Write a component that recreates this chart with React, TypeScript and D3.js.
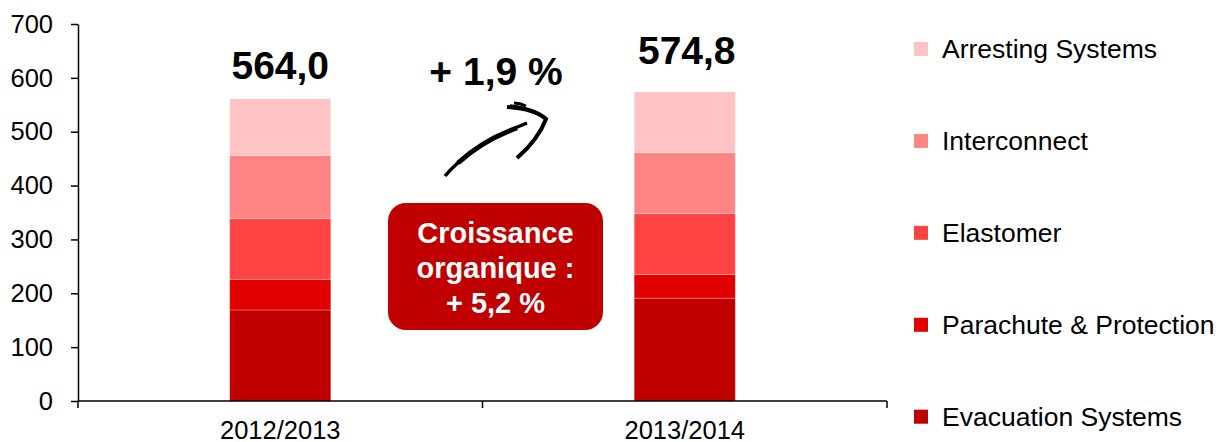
import React, { useEffect, useRef } from 'react';
import * as d3 from 'd3';

// Chart data
const categories = ['2012/2013', '2013/2014'];
const seriesNames = ['Evacuation Systems', 'Parachute & Protection', 'Elastomer', 'Interconnect', 'Arresting Systems'];
const seriesColors = ['#C00000', '#E20000', '#FF4343', '#FF8585', '#FFC3C3'];
const evacuation = [169, 191];
const parachute = [57, 44];
const elastomer = [113, 113];
const interconnect = [117, 113];
const arresting = [105, 113];
const totalLabels = ['564,0', '574,8'];
const yTicks = [0, 100, 200, 300, 400, 500, 600, 700];
const growthLabel = '+ 1,9 %';
const organicLines = ['Croissance', 'organique :', '+ 5,2 %'];

const W = 1219;
const H = 442;
const FONT = '"Liberation Sans", Arial, Helvetica, sans-serif';

const App = () => {
  const ref = useRef<SVGSVGElement | null>(null);

  useEffect(() => {
    if (!ref.current) return;
    const svg = d3.select(ref.current);
    svg.selectAll('*').remove();

    const plot = { left: 78, right: 887, top: 24, bottom: 401 };

    const x = d3.scaleBand().domain(categories).range([plot.left, plot.right]).padding(0);
    const y = d3.scaleLinear().domain([0, 700]).range([plot.bottom, plot.top]);
    const barW = x.bandwidth() * 0.25;

    // rows -> stacked
    const series = [evacuation, parachute, elastomer, interconnect, arresting];
    const rows = categories.map((c, i) => {
      const r: any = { cat: c };
      seriesNames.forEach((s, k) => (r[s] = series[k][i]));
      return r;
    });
    const stacked = d3.stack().keys(seriesNames)(rows);

    // Bars
    stacked.forEach((layer, k) => {
      svg.append('g')
        .selectAll('rect')
        .data(layer)
        .join('rect')
        .attr('x', (d: any) => x(d.data.cat)! + x.bandwidth() / 2 - barW / 2)
        .attr('width', barW)
        .attr('y', d => y(d[1]))
        .attr('height', d => y(d[0]) - y(d[1]))
        .attr('fill', seriesColors[k])
        .attr('stroke', 'rgba(255,255,255,0.35)')
        .attr('stroke-width', 0.75);
    });

    // Y axis
    const yAxis = svg.append('g')
      .attr('transform', `translate(${plot.left},0)`)
      .call(d3.axisLeft(y).tickValues(yTicks).tickSize(7).tickSizeOuter(0).tickPadding(18));
    yAxis.select('.domain').attr('stroke', '#000').attr('stroke-width', 1.5);
    yAxis.selectAll('.tick line').attr('stroke', '#000').attr('stroke-width', 1.5);
    yAxis.selectAll('.tick text')
      .attr('font-family', FONT)
      .attr('font-size', 25.5)
      .attr('fill', '#000');

    // X axis
    const xAxis = svg.append('g');
    xAxis.append('line')
      .attr('x1', plot.left).attr('x2', plot.right)
      .attr('y1', plot.bottom).attr('y2', plot.bottom)
      .attr('stroke', '#000').attr('stroke-width', 1.5);
    const bounds = [...categories.map(c => x(c)!), plot.right];
    xAxis.selectAll('line.tick')
      .data(bounds)
      .join('line')
      .attr('class', 'tick')
      .attr('x1', d => d).attr('x2', d => d)
      .attr('y1', plot.bottom).attr('y2', plot.bottom + 7)
      .attr('stroke', '#000').attr('stroke-width', 1.5);
    xAxis.selectAll('text')
      .data(categories)
      .join('text')
      .attr('x', d => x(d)! + x.bandwidth() / 2)
      .attr('y', 439)
      .attr('text-anchor', 'middle')
      .attr('font-family', FONT)
      .attr('font-size', 25.5)
      .text(d => d);

    // Totals above bars
    const totals = categories.map((_, i) => d3.sum(series, s => s[i]));
    const labelOffsets = [20, 28];
    svg.append('g')
      .selectAll('text')
      .data(categories)
      .join('text')
      .attr('x', (d, i) => x(d)! + x.bandwidth() / 2 + (i === 0 ? 0 : 2))
      .attr('y', (d, i) => y(totals[i]) - labelOffsets[i])
      .attr('text-anchor', 'middle')
      .attr('font-family', FONT)
      .attr('font-size', 39)
      .attr('font-weight', 'bold')
      .text((d, i) => totalLabels[i]);

    // Growth label
    svg.append('text')
      .attr('x', 496)
      .attr('y', 85)
      .attr('text-anchor', 'middle')
      .attr('font-family', FONT)
      .attr('font-size', 39)
      .attr('font-weight', 'bold')
      .text(growthLabel);

    // Sketchy arrow
    const arrow = svg.append('g').attr('fill', 'none').attr('stroke', '#000').attr('stroke-linecap', 'butt');
    arrow.append('path')
      .attr('d', 'M445,176 Q470,146 527,123')
      .attr('stroke-width', 3.5);
    arrow.append('path')
      .attr('d', 'M458,163 Q483,140 517,128')
      .attr('stroke-width', 5);
    arrow.append('path')
      .attr('d', 'M507,107 Q535,109 546,119 Q538,140 517,158')
      .attr('stroke-width', 4);
    arrow.append('path')
      .attr('d', 'M510,105 Q534,108 543,116')
      .attr('stroke-width', 1.5);
    arrow.append('path')
      .attr('d', 'M514,103 Q520,103 526,106')
      .attr('stroke-width', 3);

    // Organic growth box
    const box = svg.append('g');
    box.append('rect')
      .attr('x', 388).attr('y', 203)
      .attr('width', 215).attr('height', 127)
      .attr('rx', 18).attr('ry', 18)
      .attr('fill', '#C00000');
    box.selectAll('text')
      .data(organicLines)
      .join('text')
      .attr('x', 495.5)
      .attr('y', (d, i) => 243 + i * 35)
      .attr('text-anchor', 'middle')
      .attr('font-family', FONT)
      .attr('font-size', 29)
      .attr('font-weight', 'bold')
      .attr('fill', '#fff')
      .text(d => d);

    // Legend
    const legendOrder = seriesNames.slice().reverse();
    const ly = d3.scalePoint().domain(legendOrder).range([49, 416.7]);
    const legend = svg.append('g')
      .selectAll('g')
      .data(legendOrder)
      .join('g')
      .attr('transform', d => `translate(914,${ly(d)})`);
    legend.append('rect')
      .attr('x', 0).attr('y', -7)
      .attr('width', 14).attr('height', 14)
      .attr('fill', d => seriesColors[seriesNames.indexOf(d)]);
    legend.append('text')
      .attr('x', 28)
      .attr('y', 9)
      .attr('font-family', FONT)
      .attr('font-size', 26.5)
      .text(d => d);
  }, []);

  return (
    <svg
      ref={ref}
      width={W}
      height={H}
      style={{ position: 'absolute', left: 0, top: 0, background: '#fff' }}
    />
  );
};

export default App;
